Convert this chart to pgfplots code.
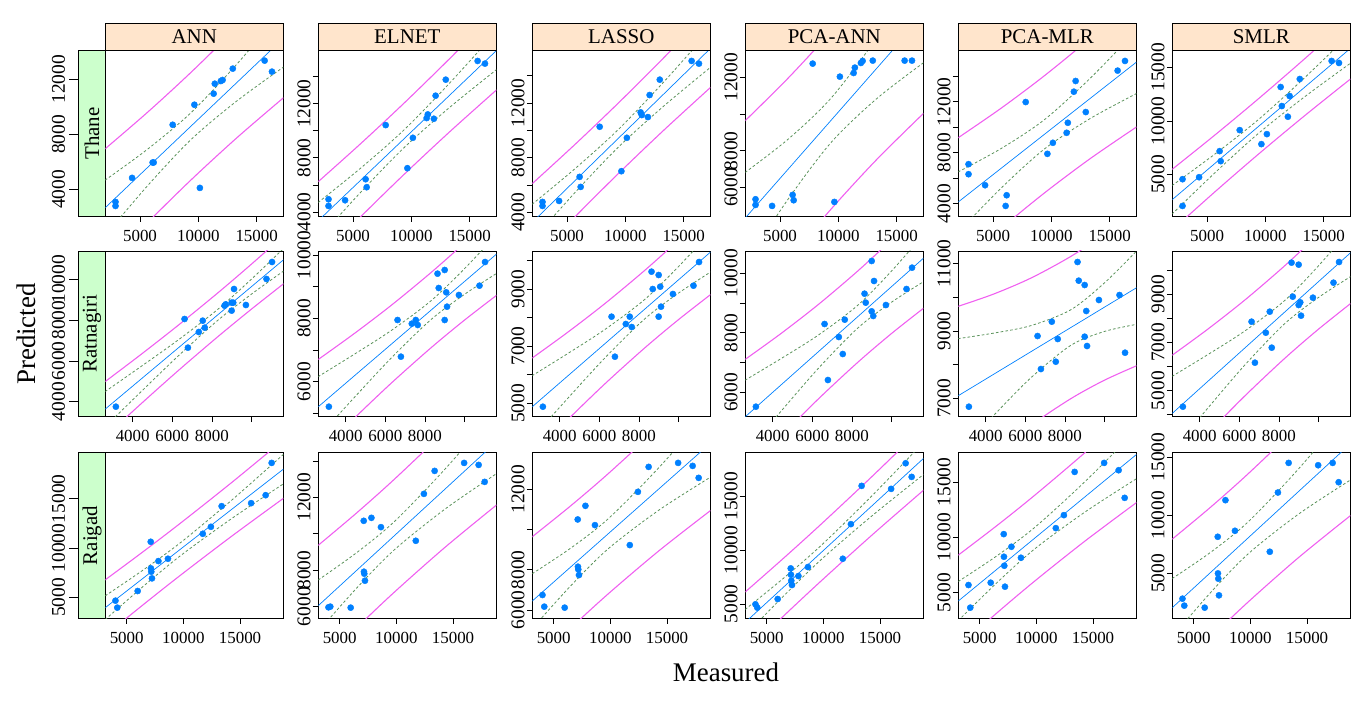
\documentclass[border=0pt]{standalone}
\usepackage{fontspec}
\setmainfont{Liberation Serif}
\usepackage{pgfplots}
\usepackage{pgfplotstable}
\pgfplotsset{compat=1.18}
\definecolor{ptcol}{HTML}{0080FF}
\definecolor{magc}{HTML}{F060F0}
\definecolor{grc}{HTML}{5A925A}
\definecolor{peach}{HTML}{FFE5CC}
\definecolor{mint}{HTML}{CCFFCC}
\newcommand{\xtlf}{\fontsize{17}{19}\selectfont}
\newcommand{\ytlf}{\fontsize{19.5}{21}\selectfont}
\newcommand{\stf}{\fontsize{21}{23}\selectfont}
\newcommand{\alf}{\fontsize{27}{30}\selectfont}
\pgfplotsset{
 base/.style={scale only axis, anchor=south west, height=165.7bp, tick pos=left, tick align=outside,
   scaled ticks=false,
   major tick length=5.5bp, axis line style={line width=0.7bp}, tick style={black, line width=0.7bp},
   xticklabel style={font=\xtlf, yshift=-4.5bp},
   yticklabel style={font=\ytlf, rotate=90, anchor=south, inner sep=2bp}, clip mode=individual},
 panel/.style={base, width=178bp},
 stripax/.style={base, width=26.6bp, xmin=0, xmax=1, xtick=\empty, major tick length=9.5bp,
   yticklabel style={inner sep=4bp},
   axis background/.style={fill=mint}},
 row1/.style={xmin=2024, xmax=17281, xtick={5000,10000,15000}, xticklabels={5000,10000,15000}},
 row2/.style={xmin=2616, xmax=11609, xtick={4000,6000,8000,10000}, xticklabels={4000,6000,8000,}},
 row3/.style={xmin=3113, xmax=18818, xtick={5000,10000,15000}, xticklabels={5000,10000,15000}},
 mag/.style={magc, line width=1.1bp, smooth, mark=none},
 grn/.style={grc, line width=0.8bp, dash pattern=on 2.6bp off 2.2bp, smooth, mark=none},
 fitl/.style={ptcol, line width=0.7bp, mark=none},
 pts/.style={only marks, mark=*, mark size=3.1bp, ptcol, mark options={draw=ptcol, fill=ptcol}},
}
\newcommand{\bands}[5]{%
 \addplot[mag] coordinates {#2};
 \addplot[mag] coordinates {#3};
 \addplot[grn] coordinates {#4};
 \addplot[grn] coordinates {#5};
 \addplot[fitl] coordinates {#1};}
\newcommand{\topstrip}[1]{%
 \draw[fill=peach, line width=0.7bp] (rel axis cs:0,1) rectangle (rel axis cs:1,1.1654);
 \node[font=\stf] at (rel axis cs:0.5,1.0827) {#1};}

\pgfplotstableread{
x ann elnet lasso pcaann pcamlr smlr
2900 3103 4938 4758 5364 7098 4564
2900 2812 4444 4465 5055 6310 2072
4320 4848 4864 4831 5000 5444 4751
6080 5963 6420 6592 5600 3816 7181
6170 5963 5827 5858 5309 4656 6246
7800 8703 10419 10259 12745 11980 9143
9660 10157 7234 7007 5218 7911 7835
10130 4121 9481 9452 12036 8778 8769
11310 10957 10938 11311 12236 9565 13161
11410 11684 11209 11115 12527 10353 11386
11930 11878 10889 10968 12781 12794 10389
12080 11951 12592 12582 12891 13634 12320
12950 12775 13777 13707 12909 11193 13909
15680 13357 15160 15076 12909 14448 15591
16310 12557 14963 14880 12909 15209 15404
}\thane
\pgfplotstableread{
x ann elnet lasso pcaann pcamlr smlr
3150 3755 5210 4883 5518 6753 4336
6620 8055 7948 8037 8296 8847 7863
6790 6649 6790 6635 6414 7869 6162
7340 7417 7832 7780 7859 9272 7406
7540 7973 7948 8037 7288 8086 8278
7640 7630 7790 7675 8442 8758 6784
8640 8709 9412 9614 9315 11040 10311
8700 8774 8959 9006 9013 10487 8900
9000 8464 9528 9497 10413 10358 10228
9000 8856 7948 8037 8722 8827 8554
9080 8856 8822 9088 8565 9588 8665
9120 9526 8369 8387 9741 8551 8112
9720 8742 8738 8831 8934 9914 8859
10760 10017 9033 9123 9472 10062 9481
11040 10851 9780 9952 10189 8353 10338
}\ratna
\pgfplotstableread{
x ann elnet lasso pcaann pcamlr smlr
4010 4662 5963 6744 4969 5691 2829
4170 3953 6000 6165 4661 3649 2229
5970 5642 5945 6116 5463 5901 2057
7120 10641 10711 10496 8302 10285 8143
7140 7939 7917 8149 7716 8243 5000
7170 7601 7808 8017 7160 7432 4543
7230 6925 7424 7736 6759 5541 3114
7800 8682 10875 11174 7592 9144 11285
8640 8918 10364 10215 8425 8153 8657
11715 11452 9615 9223 9197 10826 6857
12430 12161 12190 11868 12406 11997 11943
13377 14256 13450 13108 15955 15900 14486
15980 14560 13888 13306 15678 16712 14286
17259 15370 13779 13157 18054 16051 14486
17790 18647 12848 12563 16789 13559 12828
}\raigad

\begin{document}
\begin{tikzpicture}
\path (0,0) rectangle (1366bp,705bp);
% ================= ROW 1: Thane =================
\begin{axis}[stripax, at={(78.7bp,488.7bp)}, ymin=2061, ymax=14085, ytick={4000,8000,12000}, yticklabels={4000,8000,12000}]
\node[rotate=90, font=\stf] at (rel axis cs:0.5,0.5) {Thane};
\end{axis}
\begin{axis}[panel,row1,at={(105.3bp,488.7bp)}, ymin=2061, ymax=14085, ytick=\empty]
\bands{(2000,2668)(5700,5647)(9400,8627)(13300,11767)(17300,14989)}
{(2000,6950)(5700,9650)(9400,12531)(13300,15776)(17300,19312)}
{(2000,-1614)(5700,1644)(9400,4723)(13300,7758)(17300,10666)}
{(2000,4679)(5700,6964)(9400,9603)(13300,13102)(17300,17087)}
{(2000,657)(5700,4330)(9400,7651)(13300,10432)(17300,12891)}
\addplot[pts] table[x=x,y=ann]{\thane};
\topstrip{ANN}
\end{axis}
\begin{axis}[panel,row1,at={(318.3bp,488.7bp)}, ymin=3679, ymax=15926, ytick={4000,6000,...,14000}, yticklabels={4000,,8000,,12000,}]
\bands{(2000,3336)(5700,6383)(9400,9430)(13300,12642)(17300,15936)}
{(2000,6224)(5700,9083)(9400,12064)(13300,15347)(17300,18852)}
{(2000,448)(5700,3683)(9400,6796)(13300,9937)(17300,13020)}
{(2000,4693)(5700,7271)(9400,10088)(13300,13543)(17300,17351)}
{(2000,1979)(5700,5495)(9400,8772)(13300,11741)(17300,14521)}
\addplot[pts] table[x=x,y=elnet]{\thane};
\topstrip{ELNET}
\end{axis}
\begin{axis}[panel,row1,at={(532.3bp,488.7bp)}, ymin=3707, ymax=15834, ytick={4000,6000,...,14000}, yticklabels={4000,,8000,,12000,}]
\bands{(2000,3249)(5700,6332)(9400,9415)(13300,12665)(17300,15998)}
{(2000,6081)(5700,8980)(9400,11997)(13300,15317)(17300,18857)}
{(2000,417)(5700,3684)(9400,6833)(13300,10013)(17300,13139)}
{(2000,4579)(5700,7203)(9400,10061)(13300,13548)(17300,17385)}
{(2000,1919)(5700,5461)(9400,8769)(13300,11782)(17300,14611)}
\addplot[pts] table[x=x,y=lasso]{\thane};
\topstrip{LASSO}
\end{axis}
\begin{axis}[panel,row1,at={(745.3bp,488.7bp)}, ymin=4436, ymax=13455, ytick={6000,8000,10000,12000}, yticklabels={6000,8000,,12000}]
\bands{(2000,4329)(5700,7004)(9400,9679)(13300,12499)(17300,15391)}
{(2000,9630)(5700,11960)(9400,14513)(13300,17463)(17300,20744)}
{(2000,-972)(5700,2048)(9400,4845)(13300,7535)(17300,10038)}
{(2000,6819)(5700,8635)(9400,10887)(13300,14152)(17300,17988)}
{(2000,1839)(5700,5373)(9400,8471)(13300,10846)(17300,12794)}
\addplot[pts] table[x=x,y=pcaann]{\thane};
\topstrip{PCA-ANN}
\end{axis}
\begin{axis}[panel,row1,at={(958.3bp,488.7bp)}, ymin=3003, ymax=16023, ytick={4000,6000,...,14000}, yticklabels={4000,,8000,,12000,}]
\bands{(2000,4114)(5700,6777)(9400,9439)(13300,12246)(17300,15124)}
{(2000,9166)(5700,11500)(9400,14045)(13300,16976)(17300,20225)}
{(2000,-938)(5700,2054)(9400,4833)(13300,7516)(17300,10023)}
{(2000,6487)(5700,8331)(9400,10591)(13300,13822)(17300,17599)}
{(2000,1741)(5700,5223)(9400,8287)(13300,10670)(17300,12649)}
\addplot[pts] table[x=x,y=pcamlr]{\thane};
\topstrip{PCA-MLR}
\end{axis}
\begin{axis}[panel,row1,at={(1172.3bp,488.7bp)}, ymin=1106, ymax=16557, ytick={5000,10000,15000}, yticklabels={5000,10000,15000}]
\bands{(2000,2642)(5700,6059)(9400,9476)(13300,13078)(17300,16772)}
{(2000,5474)(5700,8707)(9400,12058)(13300,15730)(17300,19631)}
{(2000,-190)(5700,3411)(9400,6894)(13300,10426)(17300,13913)}
{(2000,3972)(5700,6930)(9400,10122)(13300,13961)(17300,18159)}
{(2000,1312)(5700,5188)(9400,8830)(13300,12195)(17300,15385)}
\addplot[pts] table[x=x,y=smlr]{\thane};
\topstrip{SMLR}
\end{axis}
% ================= ROW 2: Ratnagiri =================
\begin{axis}[stripax, at={(78.7bp,288.3bp)}, ymin=3264, ymax=11390, ytick={4000,6000,8000,10000}, yticklabels={4000,6000,8000,10000}]
\node[rotate=90, font=\stf] at (rel axis cs:0.5,0.5) {Ratnagiri};
\end{axis}
\begin{axis}[panel,row2,at={(105.3bp,288.3bp)}, ymin=3264, ymax=11390, ytick=\empty]
\bands{(2600,3627)(4400,5090)(6300,6635)(8300,8260)(10000,9642)(11700,11024)}
{(2600,4979)(4400,6302)(6300,7747)(8300,9334)(10000,10745)(11700,12207)}
{(2600,2275)(4400,3878)(6300,5523)(8300,7186)(10000,8539)(11700,9841)}
{(2600,4491)(4400,5712)(6300,7027)(8300,8529)(10000,10009)(11700,11588)}
{(2600,2763)(4400,4468)(6300,6243)(8300,7991)(10000,9275)(11700,10460)}
\addplot[pts] table[x=x,y=ann]{\ratna};
\end{axis}
\begin{axis}[panel,row2,at={(318.3bp,288.3bp)}, ymin=4894, ymax=10128, ytick={5000,6000,...,10000}, yticklabels={,6000,,8000,,10000}]
\bands{(2600,5201)(4400,6165)(6300,7182)(8300,8253)(10000,9163)(11700,10073)}
{(2600,6696)(4400,7505)(6300,8411)(8300,9441)(10000,10382)(11700,11381)}
{(2600,3706)(4400,4825)(6300,5953)(8300,7065)(10000,7944)(11700,8765)}
{(2600,6157)(4400,6853)(6300,7616)(8300,8550)(10000,9568)(11700,10696)}
{(2600,4245)(4400,5477)(6300,6748)(8300,7956)(10000,8758)(11700,9450)}
\addplot[pts] table[x=x,y=elnet]{\ratna};
\end{axis}
\begin{axis}[panel,row2,at={(532.3bp,288.3bp)}, ymin=4533, ymax=10338, ytick={5000,6000,...,10000}, yticklabels={5000,,7000,,9000,}]
\bands{(2600,4873)(4400,5956)(6300,7100)(8300,8303)(10000,9326)(11700,10349)}
{(2600,6583)(4400,7488)(6300,8505)(8300,9661)(10000,10720)(11700,11845)}
{(2600,3163)(4400,4424)(6300,5695)(8300,6945)(10000,7932)(11700,8853)}
{(2600,5966)(4400,6742)(6300,7596)(8300,8643)(10000,9790)(11700,11062)}
{(2600,3780)(4400,5170)(6300,6604)(8300,7963)(10000,8862)(11700,9636)}
\addplot[pts] table[x=x,y=lasso]{\ratna};
\end{axis}
\begin{axis}[panel,row2,at={(745.3bp,288.3bp)}, ymin=5182, ymax=10749, ytick={6000,7000,...,10000}, yticklabels={6000,,8000,,10000}]
\bands{(2600,5172)(4400,6237)(6300,7361)(8300,8544)(10000,9550)(11700,10556)}
{(2600,7103)(4400,7967)(6300,8948)(8300,10078)(10000,11125)(11700,12245)}
{(2600,3241)(4400,4507)(6300,5774)(8300,7010)(10000,7975)(11700,8867)}
{(2600,6406)(4400,7125)(6300,7921)(8300,8927)(10000,10073)(11700,11361)}
{(2600,3938)(4400,5349)(6300,6801)(8300,8161)(10000,9027)(11700,9751)}
\addplot[pts] table[x=x,y=pcaann]{\ratna};
\end{axis}
\begin{axis}[panel,row2,at={(958.3bp,288.3bp)}, ymin=6457, ymax=11366, ytick={7000,8000,...,11000}, yticklabels={7000,,9000,,11000}]
\bands{(2600,7074)(4400,7713)(6300,8388)(8300,9098)(10000,9702)(11700,10306)}
{(2600,9726)(4400,10090)(6300,10568)(8300,11205)(10000,11865)(11700,12626)}
{(2600,4422)(4400,5336)(6300,6208)(8300,6991)(10000,7539)(11700,7986)}
{(2600,8769)(4400,8933)(6300,9157)(8300,9625)(10000,10421)(11700,11411)}
{(2600,5379)(4400,6493)(6300,7619)(8300,8571)(10000,8983)(11700,9201)}
\addplot[pts] table[x=x,y=pcamlr]{\ratna};
\end{axis}
\begin{axis}[panel,row2,at={(1172.3bp,288.3bp)}, ymin=3921, ymax=10795, ytick={4000,5000,...,10000}, yticklabels={,5000,,7000,,9000,}]
\bands{(2600,4048)(4400,5380)(6300,6786)(8300,8265)(10000,9523)(11700,10781)}
{(2600,6466)(4400,7547)(6300,8774)(8300,10186)(10000,11495)(11700,12897)}
{(2600,1630)(4400,3213)(6300,4798)(8300,6344)(10000,7551)(11700,8665)}
{(2600,5593)(4400,6492)(6300,7488)(8300,8745)(10000,10179)(11700,11789)}
{(2600,2503)(4400,4268)(6300,6084)(8300,7785)(10000,8867)(11700,9773)}
\addplot[pts] table[x=x,y=smlr]{\ratna};
\end{axis}
% ================= ROW 3: Raigad =================
\begin{axis}[stripax, at={(78.7bp,86.7bp)}, ymin=2872, ymax=19694, ytick={5000,10000,15000}, yticklabels={5000,10000,15000}]
\node[rotate=90, font=\stf] at (rel axis cs:0.5,0.5) {Raigad};
\end{axis}
\begin{axis}[panel,row3,at={(105.3bp,86.7bp)}, ymin=2872, ymax=19694, ytick=\empty]
\bands{(3100,3942)(6500,6984)(9850,9982)(14300,13964)(18850,18035)}
{(3100,6772)(6500,9675)(9850,12626)(14300,16690)(18850,21001)}
{(3100,1112)(6500,4293)(9850,7338)(14300,11238)(18850,15069)}
{(3100,5148)(6500,7813)(9850,10643)(14300,14901)(18850,19532)}
{(3100,2736)(6500,6155)(9850,9321)(14300,13027)(18850,16538)}
\addplot[pts] table[x=x,y=ann]{\raigad};
\end{axis}
\begin{axis}[panel,row3,at={(318.3bp,86.7bp)}, ymin=5361, ymax=14454, ytick={6000,8000,...,14000}, yticklabels={6000,8000,,12000,}]
\bands{(3100,6048)(6500,7993)(9850,9910)(14300,12456)(18850,15060)}
{(3100,9364)(6500,11146)(9850,13008)(14300,15651)(18850,18535)}
{(3100,2732)(6500,4840)(9850,6812)(14300,9261)(18850,11585)}
{(3100,7461)(6500,8965)(9850,10685)(14300,13554)(18850,16814)}
{(3100,4635)(6500,7021)(9850,9135)(14300,11358)(18850,13306)}
\addplot[pts] table[x=x,y=elnet]{\raigad};
\end{axis}
\begin{axis}[panel,row3,at={(532.3bp,86.7bp)}, ymin=5587, ymax=13818, ytick={6000,8000,10000,12000}, yticklabels={6000,8000,,12000}]
\bands{(3100,6440)(6500,8136)(9850,9806)(14300,12025)(18850,14294)}
{(3100,9634)(6500,11174)(9850,12791)(14300,15103)(18850,17642)}
{(3100,3246)(6500,5098)(9850,6821)(14300,8947)(18850,10946)}
{(3100,7801)(6500,9072)(9850,10552)(14300,13083)(18850,15984)}
{(3100,5079)(6500,7200)(9850,9060)(14300,10967)(18850,12604)}
\addplot[pts] table[x=x,y=lasso]{\raigad};
\end{axis}
\begin{axis}[panel,row3,at={(745.3bp,86.7bp)}, ymin=3673, ymax=19041, ytick={5000,10000,15000}, yticklabels={5000,10000,15000}]
\bands{(3100,3291)(6500,6578)(9850,9816)(14300,14118)(18850,18516)}
{(3100,6110)(6500,9258)(9850,12450)(14300,16833)(18850,21470)}
{(3100,472)(6500,3898)(9850,7182)(14300,11403)(18850,15562)}
{(3100,4492)(6500,7404)(9850,10474)(14300,15051)(18850,20007)}
{(3100,2090)(6500,5752)(9850,9158)(14300,13185)(18850,17025)}
\addplot[pts] table[x=x,y=pcaann]{\raigad};
\end{axis}
\begin{axis}[panel,row3,at={(958.3bp,86.7bp)}, ymin=2688, ymax=17643, ytick={5000,10000,15000}, yticklabels={5000,10000,15000}]
\bands{(3100,4238)(6500,7098)(9850,9917)(14300,13661)(18850,17489)}
{(3100,8383)(6500,11040)(9850,13790)(14300,17654)(18850,21833)}
{(3100,93)(6500,3156)(9850,6044)(14300,9668)(18850,13145)}
{(3100,6004)(6500,8313)(9850,10885)(14300,15034)(18850,19682)}
{(3100,2472)(6500,5883)(9850,8949)(14300,12288)(18850,15296)}
\addplot[pts] table[x=x,y=pcamlr]{\raigad};
\end{axis}
\begin{axis}[panel,row3,at={(1172.3bp,86.7bp)}, ymin=1143, ymax=15371, ytick={5000,10000,15000}, yticklabels={5000,10000,15000}]
\bands{(3100,2045)(6500,5090)(9850,8090)(14300,12075)(18850,16149)}
{(3100,7936)(6500,10692)(9850,13595)(14300,17751)(18850,22323)}
{(3100,-3846)(6500,-512)(9850,2585)(14300,6399)(18850,9975)}
{(3100,4555)(6500,6816)(9850,9466)(14300,14026)(18850,19266)}
{(3100,-465)(6500,3364)(9850,6714)(14300,10124)(18850,13032)}
\addplot[pts] table[x=x,y=smlr]{\raigad};
\end{axis}
\node[rotate=90, font=\alf] at (26bp,371bp) {Predicted};
\node[font=\alf] at (726bp,33bp) {Measured};
\end{tikzpicture}
\end{document}
